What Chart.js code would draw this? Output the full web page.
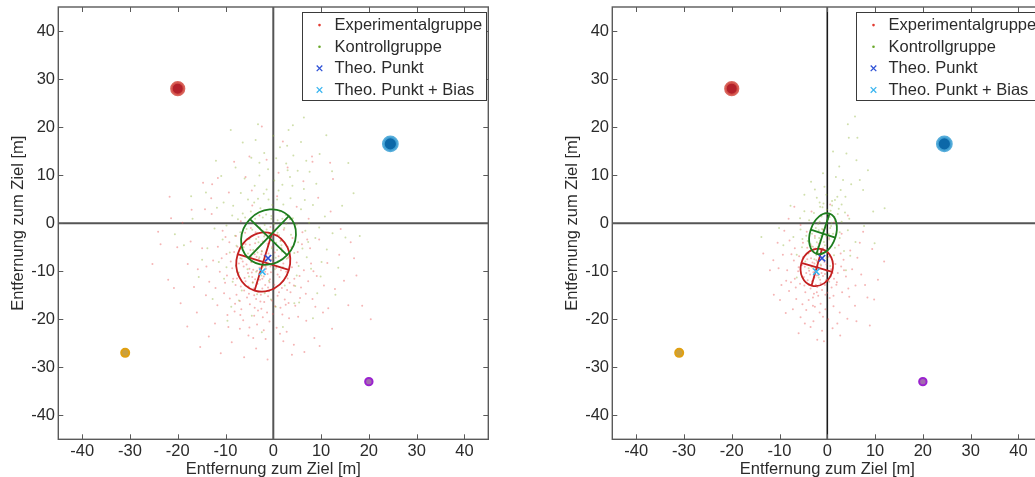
<!DOCTYPE html>
<html><head><meta charset="utf-8">
<script src="https://cdn.jsdelivr.net/npm/chart.js@4.4.1/dist/chart.umd.min.js"></script>
<style>
html,body{margin:0;padding:0;background:#fff;width:1035px;height:477px;overflow:hidden;position:relative}
canvas{position:absolute;top:0}
#c1{left:0}
#c2{left:554px}
</style></head><body>
<canvas id="c1" width="500" height="477"></canvas>
<canvas id="c2" width="500" height="477"></canvas>
<script>
// ---------- tick labels / texts ----------
const xTicks = [-40,-30,-20,-10,0,10,20,30,40];
const yTicks = [-40,-30,-20,-10,0,10,20,30,40];
const axisTitle = 'Entfernung zum Ziel [m]';
const legendLabels = ['Experimentalgruppe','Kontrollgruppe','Theo. Punkt','Theo. Punkt + Bias'];

// ---------- left panel: shot positions ----------
const expLeft = [
[-2.1,-8.7],[-3.4,-9.9],[-1.2,-10.6],[-4.6,-8.1],[-0.4,-7.6],[-2.8,-11.8],[-5.3,-10.4],[-1.7,-12.9],[0.6,-9.3],[-3.9,-6.5],
[-6.2,-9.0],[-2.4,-5.8],[1.3,-11.2],[-4.1,-13.6],[-0.9,-14.2],[-5.8,-12.1],[-3.0,-7.4],[-1.5,-9.5],[0.2,-12.8],[-6.9,-7.3],
[2.1,-8.4],[-2.6,-14.9],[-4.8,-5.6],[-1.0,-6.3],[-7.4,-10.8],[1.8,-13.5],[-3.6,-15.8],[-0.2,-4.9],[-5.1,-14.7],[-2.2,-3.8],
[2.7,-10.1],[-6.5,-5.1],[-3.3,-12.6],[-1.9,-16.4],[0.9,-15.1],[-4.4,-11.2],[-0.7,-11.7],[-2.9,-9.3],[-5.6,-8.6],[1.1,-6.9],
[-3.8,-4.2],[-7.9,-12.9],[3.4,-12.4],[-1.4,-7.8],[-4.9,-16.9],[0.4,-17.3],[-6.1,-14.0],[-2.5,-17.8],[2.4,-15.9],[-8.6,-9.4],
[-3.1,-2.9],[0.0,-8.2],[-5.4,-3.3],[-1.1,-13.4],[-7.0,-16.2],[3.1,-7.2],[-4.2,-9.7],[-2.0,-11.1],[-0.5,-10.2],[-3.7,-8.3],
[-9.8,-6.4],[-11.2,-10.1],[-10.3,-14.6],[-8.1,-18.4],[-6.3,-20.2],[-3.4,-21.1],[-0.8,-20.5],[1.9,-19.0],[4.6,-17.2],[5.8,-13.4],
[6.4,-9.8],[5.1,-6.0],[4.0,-3.1],[2.2,-1.4],[-0.6,-0.8],[-4.7,-1.0],[-7.8,-2.7],[-9.2,-4.0],[-12.6,-7.8],[-13.4,-12.2],
[-11.7,-17.1],[-9.4,-21.6],[-5.2,-23.4],[-1.6,-24.1],[2.8,-22.6],[6.9,-20.3],[8.2,-15.8],[9.1,-11.0],[7.7,-5.2],[6.1,-1.9],
[3.5,0.8],[-2.9,1.6],[-6.8,0.4],[-10.6,-1.6],[-14.9,-5.2],[-15.8,-9.6],[-14.1,-15.0],[-8.7,-24.8],[4.3,-25.3],[10.4,-18.6],
[11.3,-8.3],[9.6,-3.4],[7.4,0.9],[-4.4,3.7],[-12.9,1.9],[-17.3,-3.8],[-16.6,-13.3],[-12.2,-20.9],[12.9,-13.7],[13.8,-6.6],
[-8.4,-11.6],[-9.1,-15.7],[-7.5,-4.9],[-6.7,-17.9],[-4.0,-19.3],[-1.3,-18.6],[1.5,-17.6],[3.6,-14.4],[4.4,-11.6],[4.9,-8.2],
[3.8,-5.0],[1.6,-3.6],[-1.8,-2.4],[-5.9,-2.0],[-8.9,-8.0],[-10.1,-12.4],[-7.7,-14.9],[-3.2,-18.2],[0.7,-21.8],[3.3,-19.8],
[5.6,-15.6],[7.3,-12.1],[7.9,-8.4],[6.0,-4.4],[-11.6,-4.9],[-9.6,-19.1],[-5.0,-21.7],[2.1,-24.6],[8.8,-17.4],[10.6,-13.0],
[-20.1,-5.0],[-23.6,-4.4],[-22.0,-11.8],[-19.4,-16.7],[-18.0,-21.5],[-15.3,-25.8],[-11.0,-27.1],[-6.1,-27.9],[-1.2,-28.4],[3.9,-27.4],
[8.6,-23.9],[12.3,-22.0],[15.7,-17.1],[17.4,-10.9],[16.2,-4.0],[14.1,-1.2],[12.0,2.4],[9.4,5.3],[6.3,8.7],[3.0,11.6],
[-1.4,13.2],[-5.8,9.6],[-9.3,6.4],[-13.0,5.2],[-17.1,2.8],[-21.4,1.0],[-14.7,8.4],[-8.2,12.8],[2.0,17.0],[8.1,13.9],
[12.5,9.2],[18.6,-17.2],[20.4,-20.0],[-25.3,-8.5],[-4.5,6.8],[0.8,5.6],[4.9,3.4],[-11.6,9.4],[-17.9,-8.5],[-19.0,0.1],
[-12.8,8.1],[-21.7,5.5],[-14.3,2.9],[-2.4,20.1],[-5.0,13.9],[11.9,12.6],[1.1,10.5],[8.2,12.8],
[-1.6,-9.1],[-3.0,-10.5],[-4.3,-12.3],[-0.8,-12.3],[-2.3,-13.6],[-5.0,-9.5],[0.9,-10.7],[-3.5,-7.0],[-1.9,-6.8],[-6.0,-11.4],
[1.6,-9.8],[-4.7,-7.0],[-2.7,-16.3],[-0.3,-16.1],[-5.5,-15.5],[2.9,-13.9],[-7.2,-8.4],[-3.9,-17.6],[0.3,-6.1],[-1.2,-4.3],
[-6.8,-13.2],[3.9,-9.2],[-2.2,-19.6],[-4.9,-4.5],[1.7,-5.2],[-8.2,-6.0],[2.6,-17.0],[-6.9,-19.1],[-0.1,-18.9],[4.3,-13.0],
[-9.7,-10.9],[-3.7,-1.9],[0.8,-2.4],[5.5,-11.0],[-8.0,-16.8],[-5.7,-6.8],[-2.0,-22.3],[3.2,-16.6],[-10.8,-7.3],[6.8,-14.7],
[-12.1,-13.5],[-4.2,-23.9],[1.4,-23.0],[5.2,-19.5],[8.4,-10.0],[7.1,-3.4],[-10.0,-2.9],[-14.0,-9.0],[0.1,-1.5],[-7.0,-22.0],
[-1.7,-10.1],[-2.9,-8.0],[-3.8,-11.7],[-0.6,-9.0],[-4.5,-10.3],[-1.1,-15.2],[-3.2,-14.2],[0.2,-13.7],[-5.2,-13.2],[-2.5,-6.5],
[2.0,-12.0],[-6.4,-8.0],[-0.9,-8.5],[-2.3,-11.6],[-4.0,-15.0],[1.2,-14.4],[-5.8,-4.4],[-3.3,-5.2],[3.0,-11.5],[-7.6,-11.5],
[11.5,-17.7],[14.8,-12.0],[-16.0,-18.6],[-20.8,-13.5],[9.7,-25.6],[-13.5,-23.6],[16.9,-7.3],[-3.6,-26.1],[6.5,-26.8],[-24.1,-1.8]
];
const ctrlLeft = [
[-1.2,-3.0],[0.4,-1.6],[-2.6,-4.4],[-0.3,-5.2],[1.5,-3.7],[-3.4,-2.1],[-1.8,-0.4],[0.9,0.6],[-4.2,-5.6],[2.3,-1.0],
[-0.7,-6.8],[-2.9,-7.1],[1.0,-7.9],[-5.0,-3.3],[3.0,-4.9],[-1.5,1.8],[-3.8,0.9],[0.1,2.9],[2.6,1.7],[-5.6,-1.2],
[-2.1,-9.0],[3.7,-2.4],[-4.6,-8.0],[1.8,-5.9],[-0.9,-2.2],[-2.4,-5.9],[0.6,-4.1],[-3.1,-4.0],[-1.4,-1.3],[1.2,-2.5],
[-6.2,-5.0],[4.4,-6.2],[-0.2,3.8],[-2.7,3.1],[2.1,3.9],[-4.7,2.4],[-6.6,-7.4],[0.3,-9.6],[-3.6,-10.1],[4.9,-0.3],
[-8.0,-2.6],[-9.1,-6.1],[-7.4,0.8],[-5.3,4.9],[-2.0,6.1],[1.1,6.8],[3.6,5.2],[5.8,2.9],[6.7,-1.6],[6.1,-5.3],
[5.3,-8.9],[2.9,-10.8],[-0.9,-12.0],[-4.3,-12.4],[-7.2,-10.3],[-9.8,-9.2],[-10.6,-3.4],[-8.4,3.6],[-3.9,7.8],[0.2,8.9],
[3.5,9.6],[6.4,7.1],[8.3,3.8],[8.8,-3.1],[7.9,-9.5],[4.6,-13.1],[-1.8,-14.6],[-6.6,-14.0],[-11.4,-8.1],[-12.3,-1.1],
[-10.4,4.3],[-6.0,9.3],[-1.1,11.2],[2.7,12.4],[5.1,10.9],[9.0,8.2],[10.8,1.4],[11.2,-5.5],[9.9,-11.1],[-13.8,-5.2],
[-5.4,-9.6],[-7.7,-4.7],[-6.4,2.0],[-2.9,9.9],[4.0,7.8],[7.5,0.1],[7.0,-7.1],[2.4,-13.0],[-3.4,-14.8],[-8.5,-12.2],
[-1.9,14.6],[1.4,15.8],[4.2,14.1],[6.9,13.0],[-4.6,13.6],[0.0,18.2],[3.2,19.4],[5.8,16.9],[9.7,14.4],[12.3,10.8],
[-7.9,11.6],[-10.9,9.8],[-14.1,6.4],[-16.9,0.9],[-18.7,-4.6],[-15.6,-11.2],[-12.7,-15.8],[-8.8,-17.4],[-4.5,-19.3],[0.5,-17.4],
[5.4,-16.5],[9.2,-14.6],[13.6,-9.3],[15.1,-3.0],[14.4,3.6],[16.8,6.2],[-3.2,20.6],[6.4,22.0],[11.1,18.3],[-20.6,-2.3],
[18.1,-2.7],[-6.4,16.8],[2.0,-21.6],[-9.6,-20.3],[13.0,-14.9],[-12.0,13.0],[8.3,-19.8],[-2.4,-22.7],[-17.2,5.6],[15.7,12.5],
[-8.9,19.4],[4.1,20.4],[-0.4,0.9],[-2.2,-1.6],[0.8,-5.6],[-3.3,-6.1],[1.9,0.9],[-1.0,4.9],[2.8,-7.4],[-5.9,1.2],
[-0.6,-3.5],[-1.9,-2.8],[0.9,-2.0],[-2.8,-0.9],[0.2,-0.2],[-1.1,-4.8],[1.7,-4.6],[-3.6,-3.3],[-0.4,1.5],[2.7,-0.1],
[-4.4,-1.4],[-2.2,1.2],[0.5,-7.2],[-1.6,-7.8],[3.3,-6.9],[-5.3,-6.3],[1.4,2.4],[-3.2,5.1],[0.8,4.9],[4.1,1.0],
[-6.9,-1.9],[5.2,-4.0],[-2.5,-10.9],[2.0,-9.2],[-7.8,-8.8],[-4.0,4.3],[1.9,8.0],[6.6,4.8],[-8.6,1.6],[7.3,-3.9],
[-1.4,7.0],[-5.1,-11.1],[4.9,-10.9],[-9.8,-0.5],[9.6,-0.9],[3.0,11.0],[-2.9,12.6],[-10.3,-11.6],[10.1,-8.1],[-6.8,6.3],
[0.6,13.5],[-3.7,17.3],[2.9,16.1],[7.6,10.7],[-11.8,3.2],[-14.9,-7.6],[12.4,-2.1],[-0.5,-15.9],[4.4,-16.7],[-7.2,-16.1]
];

// ---------- right panel: shot positions ----------
const expRight = [
[-2.0,-9.0],[-3.1,-8.2],[-1.2,-10.4],[-2.7,-11.3],[-0.6,-8.1],[-3.8,-9.9],[-1.6,-6.7],[-4.2,-7.5],[-0.3,-11.9],[-2.4,-12.8],
[-3.5,-13.6],[-1.1,-13.9],[0.8,-9.6],[-4.9,-11.2],[-2.9,-6.0],[0.3,-7.0],[-5.3,-8.7],[1.4,-11.6],[-1.9,-15.1],[-3.3,-4.8],
[-0.9,-5.2],[-4.6,-14.4],[0.9,-13.4],[-2.3,-7.7],[-1.5,-11.8],[-3.6,-10.7],[-0.1,-10.0],[-2.8,-14.7],[1.7,-8.5],[-5.7,-12.6],
[-4.0,-6.3],[-1.8,-4.3],[2.2,-10.4],[-6.1,-10.0],[0.5,-15.6],[-3.9,-16.0],[-2.5,-9.8],[-1.3,-8.8],[-3.2,-12.1],[-0.5,-12.9],
[-7.0,-7.8],[-7.6,-12.3],[-6.5,-15.8],[-4.4,-18.1],[-1.6,-18.6],[1.3,-17.3],[3.1,-14.4],[3.9,-11.1],[3.4,-7.6],[2.4,-4.6],
[0.4,-3.1],[-2.6,-2.7],[-5.1,-4.1],[-6.8,-5.2],[-8.4,-9.8],[-8.0,-14.1],[-5.6,-19.6],[-2.9,-20.4],[0.2,-20.0],[2.6,-18.6],
[4.6,-15.3],[5.2,-9.6],[4.8,-5.7],[3.0,-2.2],[-0.9,-1.4],[-4.3,-1.8],[-7.9,-3.6],[-9.3,-6.6],[-9.6,-12.9],[-7.2,-17.9],
[-3.5,-21.6],[1.1,-21.9],[5.9,-13.0],[6.3,-7.2],[-5.6,-0.4],[1.5,0.2],[-10.2,-9.4],[-1.1,-22.4],[4.2,-19.9],[7.1,-10.7],
[-12.0,-9.8],[-11.2,-14.9],[-10.4,-4.1],[-8.7,-18.7],[-6.0,-22.9],[-2.1,-24.3],[2.7,-23.4],[6.1,-20.4],[8.4,-15.5],[10.6,-11.8],
[9.4,-5.4],[7.5,-1.8],[4.3,1.6],[-3.3,2.4],[-8.1,0.9],[-13.4,-6.3],[11.9,-8.0],[-6.9,3.4],[0.6,3.9],[8.9,-21.3],
[-2.2,-10.9],[-4.7,-9.1],[0.0,-14.5],[-3.0,-17.2],[1.9,-12.8],[-5.9,-6.9],[-1.4,-16.8],[2.9,-9.0],[-6.6,-13.4],[-0.4,-17.9],
[-1.7,-9.5],[-2.9,-10.2],[-0.9,-11.0],[-3.4,-7.3],[-1.0,-7.6],[-4.4,-10.4],[-2.1,-13.3],[0.4,-12.2],[-3.0,-15.5],[-0.2,-8.6],
[-4.8,-13.0],[1.1,-10.4],[-2.5,-5.3],[-5.1,-7.1],[-1.4,-12.5],[-3.8,-12.8],[0.1,-6.0],[-6.0,-9.2],[2.0,-12.3],[-2.6,-17.4],
[-4.2,-5.1],[1.3,-15.1],[-6.8,-11.6],[-0.9,-19.5],[3.5,-9.8],[-5.2,-16.9],[2.8,-6.3],[-7.5,-6.5],[4.4,-13.6],[-8.6,-12.0],
[-1.9,-10.8],[-3.3,-9.1],[-0.5,-10.6],[-2.7,-8.4],[-1.3,-7.1],[-4.1,-11.9],[-2.2,-14.4],[0.7,-11.1],[-3.6,-5.8],[-0.4,-14.9],
[5.8,-17.2],[-9.9,-16.0],[-4.7,-20.9],[2.1,-20.9],[7.9,-12.9],[-11.3,-7.7],[6.8,-4.1],[-0.7,-24.6],[-9.0,-1.6],[9.8,-15.9]
];
const ctrlRight = [
[-0.9,-2.0],[-0.4,-0.5],[-1.5,-3.6],[0.2,0.8],[-2.0,-4.9],[-1.1,-1.2],[-0.2,-2.8],[-1.8,-1.5],[0.6,-1.0],[-2.6,-3.1],
[0.1,1.9],[-1.3,-5.6],[-2.9,-5.8],[0.9,0.1],[-0.7,-3.9],[-1.6,0.3],[1.2,-2.2],[-3.2,-2.2],[-0.1,2.8],[-2.3,-6.7],
[1.5,1.3],[-0.5,-4.6],[-1.9,-0.2],[0.4,-3.4],[-3.5,-4.4],[-1.0,3.3],[1.9,-0.4],[-2.7,-7.5],[0.7,2.6],[-3.9,-6.2],
[-4.4,-2.6],[-3.8,0.6],[-2.8,2.1],[-1.6,4.3],[1.0,4.6],[2.4,3.0],[3.0,0.3],[2.6,-3.1],[1.6,-5.1],[-0.2,-7.3],
[-1.4,-8.6],[-4.6,-8.0],[-5.3,-5.0],[-5.6,-1.3],[-4.8,2.5],[-2.2,5.3],[-1.5,3.4],[1.6,4.8],[2.1,5.5],[3.8,5.5],
[2.8,6.9],[3.7,2.2],[4.3,-1.5],[3.5,-5.8],[0.6,-8.9],[-3.0,-9.4],[-6.4,-6.6],[-7.1,-2.9],[-5.7,1.0],[-4.8,5.9],
[5.8,22.2],[4.3,20.6],[4.5,17.8],[6.3,17.8],[4.0,14.5],[6.1,13.1],[8.5,11.0],[2.5,11.8],[-0.9,10.4],[3.3,9.0],
[6.8,9.0],[7.5,6.9],[12.0,3.1],[-7.7,3.6],[-9.2,-4.6],[-10.1,-1.0],[5.9,-3.9],[7.7,-0.6],[9.6,2.4],[-6.4,-11.3],
[3.9,-9.8],[-0.6,7.6],[1.2,14.9],[-3.4,8.6],[9.9,-4.2],[-13.8,-2.9],[5.0,8.1],[0.2,-12.0],[-0.3,-0.9],[-1.2,1.4],
[-0.7,-1.5],[-1.3,-2.6],[-0.1,-0.1],[-2.2,-4.0],[0.5,1.3],[-1.7,-3.1],[0.8,-0.6],[-2.4,-1.0],[-0.4,2.1],[-3.0,-4.9],
[1.6,0.6],[-1.9,-6.1],[0.3,-2.2],[-3.4,-1.5],[-0.8,4.1],[2.2,1.9],[-2.1,-8.1],[1.0,3.7],[-4.1,-3.7],[2.6,-1.9],
[-0.2,5.9],[-3.9,-9.4],[3.0,3.9],[-5.2,-3.3],[4.6,0.9],[1.4,-6.7],[-2.6,7.0],[1.8,9.6],[-1.8,-11.3],[4.8,-6.8]
];

// ---------- theoretical points & targets ----------
const theoPoint = [[-1.1,-7.3]];
const theoBias = [[-2.3,-10.1]];
const targets = [[-20,28],[24.5,16.5],[-31,-27],[20,-33]];

// ---------- confidence ellipses: [cx, cy, semiMajor, semiMinor, angleDeg] ----------
const ellExpLeft  = [-2.1,-8.1,6.2,5.6,73];
const ellCtrlLeft = [-1.0,-2.9,6.1,5.4,46];
const ellExpRight  = [-2.2,-9.2,3.95,3.35,74];
const ellCtrlRight = [-0.9,-2.2,4.4,2.7,72];

// ---------- styles ----------
const FONT = {family:'"Liberation Sans", Arial, sans-serif', size:16.5};
const TXT = '#2b2b2b';
const expDot = 'rgba(232,90,90,0.45)';
const ctrlDot = 'rgba(150,185,70,0.45)';
const expLine = '#c42020';
const ctrlLine = '#1e7d1e';
const theoCol = '#2f52d6';
const biasCol = '#3cb6f0';
const targetFill = ['#b3212b','#0c68a8','#c9a040','#a46ab0'];
const targetRing = ['rgba(214,86,76,0.9)','rgba(70,165,215,0.9)','#e0a012','#9a22cf'];
const targetR = [6.3,7.0,4.0,3.7];
const targetBW = [2.6,2.8,2.0,2.0];
const PLOT_TOP = 7;

const pts = a => a.map(([x,y]) => ({x,y}));

const framePlugin = {
  id:'frame',
  afterLayout(chart){
    const a = chart.chartArea, ys = chart.scales.y;
    if (Math.abs(a.top - PLOT_TOP) > 0.01) {
      a.top = PLOT_TOP; a.height = a.bottom - PLOT_TOP;
      ys.top = PLOT_TOP; ys.height = ys.bottom - PLOT_TOP;
      ys.configure();
    }
  },
  beforeDatasetsDraw(chart, args, o){
    const {ctx, chartArea:a, scales:{x,y}} = chart;
    const x0 = x.getPixelForValue(0), y0 = y.getPixelForValue(0);
    ctx.save();
    ctx.lineWidth = 2; ctx.strokeStyle = o.hColor;
    ctx.beginPath(); ctx.moveTo(a.left,y0); ctx.lineTo(a.right,y0); ctx.stroke();
    ctx.lineWidth = o.vWidth; ctx.strokeStyle = o.vColor;
    ctx.beginPath(); ctx.moveTo(x0,a.top); ctx.lineTo(x0,a.bottom); ctx.stroke();
    ctx.restore();
  },
  afterDatasetDraw(chart, args, o){
    if (args.index !== 1) return;
    const {ctx, scales:{x,y}} = chart;
    const px = v => x.getPixelForValue(v), py = v => y.getPixelForValue(v);
    o.ellipses.forEach(([e,color]) => {
      const [cx,cy,ra,rb,deg] = e;
      const t = deg*Math.PI/180, ca = Math.cos(t), sa = Math.sin(t);
      const sx = px(1)-px(0), sy = py(0)-py(1);
      ctx.save();
      ctx.beginPath();
      ctx.save();
      ctx.translate(px(cx), py(cy));
      ctx.scale(sx, -sy);
      ctx.ellipse(0,0,ra,rb,t,0,Math.PI*2);
      ctx.restore();
      ctx.moveTo(px(cx-ra*ca), py(cy-ra*sa)); ctx.lineTo(px(cx+ra*ca), py(cy+ra*sa));
      ctx.moveTo(px(cx+rb*sa), py(cy-rb*ca)); ctx.lineTo(px(cx-rb*sa), py(cy+rb*ca));
      ctx.strokeStyle = color; ctx.lineWidth = 1.8; ctx.stroke();
      ctx.restore();
    });
  },
  afterDraw(chart, args, o){
    const {ctx, chartArea:a, scales:{x,y}} = chart;
    ctx.save();
    ctx.strokeStyle = '#5a5a5a'; ctx.lineWidth = 1;
    ctx.beginPath();
    xTicks.forEach(v => { const p = Math.round(x.getPixelForValue(v))+0.5;
      ctx.moveTo(p,a.bottom); ctx.lineTo(p,a.bottom-5); ctx.moveTo(p,a.top); ctx.lineTo(p,a.top+5); });
    yTicks.forEach(v => { const p = Math.round(y.getPixelForValue(v))+0.5;
      ctx.moveTo(a.left,p); ctx.lineTo(a.left+5,p); ctx.moveTo(a.right,p); ctx.lineTo(a.right-5,p); });
    ctx.stroke();
    ctx.lineWidth = 1.4; ctx.strokeStyle = '#5a5a5a';
    ctx.strokeRect(a.left, a.top, a.right-a.left, a.bottom-a.top);
    // legend
    const bx = Math.round(a.left + 243.4)+0.5, by = Math.round(a.top + 4.7)+0.5, bw = 184, bh = 88;
    ctx.fillStyle = '#fff'; ctx.fillRect(bx, by, bw, bh);
    ctx.strokeStyle = '#3a3a3a'; ctx.lineWidth = 1; ctx.strokeRect(bx, by, bw, bh);
    ctx.font = FONT.size + 'px ' + FONT.family;
    ctx.textBaseline = 'middle'; ctx.textAlign = 'left';
    const items = [
      {kind:'dot', color:'#e23a30'},
      {kind:'dot', color:'#6aa82a'},
      {kind:'x', color:theoCol},
      {kind:'x', color:biasCol}
    ];
    items.forEach((it,i) => {
      const cy = by + 12.6 + i*21.6, mx = bx + 17;
      if (it.kind === 'dot') {
        ctx.fillStyle = it.color; ctx.beginPath(); ctx.arc(mx, cy, 1.3, 0, Math.PI*2); ctx.fill();
      } else {
        ctx.strokeStyle = it.color; ctx.lineWidth = 1.3; ctx.beginPath();
        ctx.moveTo(mx-2.8,cy-2.8); ctx.lineTo(mx+2.8,cy+2.8); ctx.moveTo(mx+2.8,cy-2.8); ctx.lineTo(mx-2.8,cy+2.8); ctx.stroke();
      }
      ctx.fillStyle = TXT;
      ctx.fillText(legendLabels[i], bx + 32, cy + 0.5);
    });
    ctx.restore();
  }
};

function makeChart(id, exp, ctrl, ellE, ellC, vColor, vWidth){
  return new Chart(document.getElementById(id), {
    type:'scatter',
    data:{datasets:[
      {label:legendLabels[0], data:pts(exp), pointRadius:1.0, pointBackgroundColor:expDot, pointBorderWidth:0, order:6},
      {label:legendLabels[1], data:pts(ctrl), pointRadius:1.0, pointBackgroundColor:ctrlDot, pointBorderWidth:0, order:5},
      {label:legendLabels[2], data:pts(theoPoint), pointStyle:'crossRot', pointRadius:4.5, pointBorderColor:theoCol, pointBorderWidth:1.6, order:3},
      {label:legendLabels[3], data:pts(theoBias), pointStyle:'crossRot', pointRadius:4.5, pointBorderColor:biasCol, pointBorderWidth:1.6, order:2},
      {label:'targets', data:pts(targets), pointRadius:targetR, pointBackgroundColor:targetFill, pointBorderColor:targetRing, pointBorderWidth:targetBW, order:1}
    ]},
    options:{
      responsive:false, animation:false, events:[],
      layout:{padding:{top:7, right:11.7, left:0, bottom:0}},
      plugins:{
        legend:{display:false}, tooltip:{enabled:false},
        frame:{hColor:'#555', vColor:vColor, vWidth:vWidth, ellipses:[[ellE,expLine],[ellC,ctrlLine]]}
      },
      scales:{
        x:{type:'linear', min:-45, max:45,
          afterBuildTicks: s => { s.ticks = xTicks.map(v => ({value:v})); },
          afterFit: s => { s.height = 37.7; s.paddingLeft = 0; s.paddingRight = 0; },
          grid:{display:false, drawTicks:false}, border:{display:false},
          ticks:{font:FONT, color:TXT, padding:2.5, autoSkip:false, maxRotation:0},
          title:{display:true, text:axisTitle, font:FONT, color:TXT, padding:{top:0, bottom:-2}}},
        y:{type:'linear', min:-45, max:45,
          afterBuildTicks: s => { s.ticks = yTicks.map(v => ({value:v})); },
          afterFit: s => { s.width = 58.3; s.paddingTop = 0; s.paddingBottom = 0; },
          grid:{display:false, drawTicks:false}, border:{display:false},
          ticks:{font:FONT, color:TXT, padding:3.3, autoSkip:false},
          title:{display:true, text:axisTitle, font:FONT, color:TXT, padding:{top:8.4, bottom:0}}}
      }
    },
    plugins:[framePlugin]
  });
}

makeChart('c1', expLeft, ctrlLeft, ellExpLeft, ellCtrlLeft, '#555', 2);
makeChart('c2', expRight, ctrlRight, ellExpRight, ellCtrlRight, '#1a1a1a', 1.6);
</script>
</body></html>
